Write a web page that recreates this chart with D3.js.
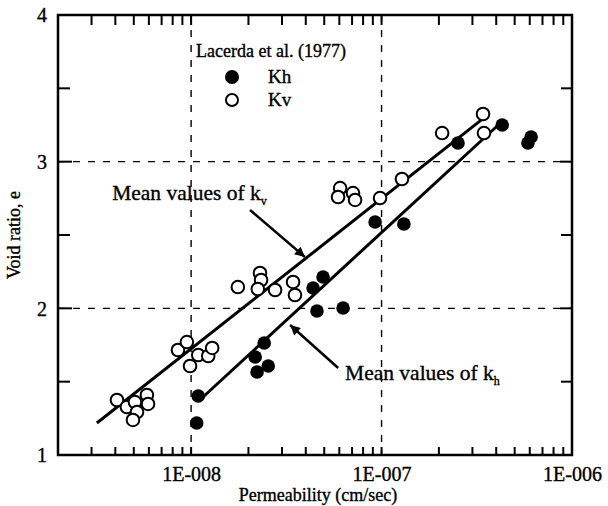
<!DOCTYPE html>
<html><head><meta charset="utf-8">
<script src="https://cdn.jsdelivr.net/npm/d3@7"></script>
<style>body{margin:0;background:#fff}text{font-family:"Liberation Serif","DejaVu Serif",serif;fill:#000;stroke:#000;stroke-width:0.35px}</style>
</head><body><svg id="c" width="608" height="506"></svg>
<script>
// Kh (filled) data: permeability (cm/sec), void ratio
const khK = [1.09e-8,1.07e-8,2.42e-8,2.17e-8,2.54e-8,2.22e-8,4.93e-8,4.37e-8,4.58e-8,6.28e-8,9.25e-8,1.31e-7,2.52e-7,4.3e-7,6.1e-7,5.87e-7];
const khE = [1.402,1.218,1.764,1.668,1.607,1.566,2.214,2.139,1.982,2.002,2.589,2.575,3.127,3.250,3.168,3.127];
// Kv (open) data
const kvK = [4.08e-9,4.6e-9,5.07e-9,5.2e-9,4.95e-9,5.86e-9,5.94e-9,8.53e-9,9.5e-9,9.87e-9,1.09e-8,1.23e-8,1.29e-8,1.76e-8,2.30e-8,2.33e-8,2.24e-8,2.76e-8,3.43e-8,3.51e-8,6.06e-8,5.91e-8,7.08e-8,7.26e-8,9.82e-8,1.28e-7,2.08e-7,3.41e-7,3.45e-7];
const kvE = [1.375,1.327,1.361,1.293,1.239,1.409,1.348,1.716,1.770,1.607,1.682,1.675,1.730,2.145,2.241,2.193,2.132,2.125,2.180,2.091,2.820,2.759,2.786,2.739,2.752,2.882,3.195,3.325,3.195];
// mean lines (endpoints)
const kvLineK = [3.2e-9, 3.5e-7], kvLineE = [1.218, 3.305];
const khLineK = [1.11e-8, 4.1e-7], khLineE = [1.375, 3.25];
// axes
const xDomain = [2e-9, 1e-6];
const yDomain = [1, 4];
const xTickVals = [1e-8, 1e-7, 1e-6];
const xTickLabels = ["1E-008", "1E-007", "1E-006"];
const yTickVals = [1, 2, 3, 4];
const yMinor = [1.5, 2.5, 3.5];
const legendTitle = "Lacerda et al. (1977)";
const legendNames = ["Kh", "Kv"];
// annotations
const annV = {text:"Mean values of k", sub:"v", tK:3.85e-9, tE:2.739, fK:2.04e-8, fE:2.67, toK:3.96e-8, toE:2.35};
const annH = {text:"Mean values of k", sub:"h", tK:6.43e-8, tE:1.511, fK:5.92e-8, fE:1.593, toK:3.31e-8, toE:1.886};

const L=58, R=572, T=15, B=455;
const svg = d3.select("#c");
const x = d3.scaleLog().domain(xDomain).range([L,R]);
const y = d3.scaleLinear().domain(yDomain).range([B,T]);

// gridlines
const g = svg.append("g").attr("stroke","#000").attr("stroke-width",1.4).attr("stroke-dasharray","7,8");
[2,3].forEach(v=>g.append("line").attr("x1",L).attr("x2",R).attr("y1",y(v)).attr("y2",y(v)));
[1e-8,1e-7].forEach(v=>g.append("line").attr("y1",T).attr("y2",B).attr("x1",x(v)).attr("x2",x(v)));

// minor x ticks
const xMinor = [];
for (let d=-9; d<=-7; d++) for (let m=1; m<=9; m++){ const v=m*Math.pow(10,d); if(v>xDomain[0]*1.0001 && v<xDomain[1]*0.9999) xMinor.push(v); }
const tk = svg.append("g").attr("stroke","#000").attr("stroke-width",2);
xMinor.forEach(v=>{
  tk.append("line").attr("x1",x(v)).attr("x2",x(v)).attr("y1",B).attr("y2",B-8);
  tk.append("line").attr("x1",x(v)).attr("x2",x(v)).attr("y1",T).attr("y2",T+10);
});
yMinor.forEach(v=>{
  tk.append("line").attr("x1",L).attr("x2",L+12).attr("y1",y(v)).attr("y2",y(v));
  tk.append("line").attr("x1",R).attr("x2",R-11).attr("y1",y(v)).attr("y2",y(v));
});
[2,3].forEach(v=>{
  tk.append("line").attr("x1",L).attr("x2",L+14).attr("y1",y(v)).attr("y2",y(v));
  tk.append("line").attr("x1",R).attr("x2",R-12).attr("y1",y(v)).attr("y2",y(v));
});

// frame
svg.append("rect").attr("x",L).attr("y",T).attr("width",R-L).attr("height",B-T)
  .attr("fill","none").attr("stroke","#000").attr("stroke-width",2.5);

// axes labels
const xa = d3.axisBottom(x).tickValues(xTickVals).tickFormat((d,i)=>xTickLabels[i]).tickSize(0).tickPadding(0);
const xg = svg.append("g").attr("transform",`translate(0,${B})`).call(xa);
xg.select(".domain").remove();
xg.selectAll("text").attr("font-size",20).attr("dy",null).attr("y",26).attr("font-family","Liberation Serif").attr("fill","#000");
const ya = d3.axisLeft(y).tickValues(yTickVals).tickFormat(d3.format("d")).tickSize(0).tickPadding(11);
const yg = svg.append("g").attr("transform",`translate(${L},0)`).call(ya);
yg.select(".domain").remove();
yg.selectAll("text").attr("font-size",20).attr("font-family","Liberation Serif").attr("fill","#000").attr("dy","0.34em");

svg.append("text").attr("x",(L+R)/2+3).attr("y",501).attr("text-anchor","middle").attr("font-size",18).text("Permeability (cm/sec)");
svg.append("text").attr("transform",`translate(20,${(T+B)/2}) rotate(-90)`).attr("text-anchor","middle").attr("font-size",18).text("Void ratio, e");

// mean lines
const line = d3.line().x(d=>x(d[0])).y(d=>y(d[1]));
svg.append("path").attr("d",line(kvLineK.map((k,i)=>[k,kvLineE[i]]))).attr("stroke","#000").attr("stroke-width",3).attr("fill","none");
svg.append("path").attr("d",line(khLineK.map((k,i)=>[k,khLineE[i]]))).attr("stroke","#000").attr("stroke-width",3).attr("fill","none");

// points
svg.append("g").selectAll("circle").data(kvK.map((k,i)=>[k,kvE[i]])).join("circle")
  .attr("cx",d=>x(d[0])).attr("cy",d=>y(d[1])).attr("r",6.3).attr("fill","#fff").attr("stroke","#000").attr("stroke-width",2);
svg.append("g").selectAll("circle").data(khK.map((k,i)=>[k,khE[i]])).join("circle")
  .attr("cx",d=>x(d[0])).attr("cy",d=>y(d[1])).attr("r",6.8).attr("fill","#000");

// legend
svg.append("text").attr("x",196).attr("y",57).attr("font-size",18).text(legendTitle);
svg.append("circle").attr("cx",232).attr("cy",77).attr("r",7).attr("fill","#000");
svg.append("circle").attr("cx",232).attr("cy",100).attr("r",6).attr("fill","#fff").attr("stroke","#000").attr("stroke-width",2);
svg.append("text").attr("x",268).attr("y",83).attr("font-size",19).text(legendNames[0]);
svg.append("text").attr("x",268).attr("y",106).attr("font-size",19).text(legendNames[1]);

// annotations
svg.append("defs").append("marker").attr("id","ah").attr("viewBox","0 0 10 10").attr("refX",10).attr("refY",5)
  .attr("markerWidth",5).attr("markerHeight",4).attr("markerUnits","strokeWidth").attr("orient","auto")
  .append("path").attr("d","M0,0L10,5L0,10Z").attr("fill","#000");
[annV, annH].forEach(a=>{
  const t = svg.append("text").attr("x",x(a.tK)).attr("y",y(a.tE)).attr("font-size",21.5);
  t.append("tspan").text(a.text);
  t.append("tspan").attr("font-size",12).attr("dy",5).text(a.sub);
  svg.append("line").attr("x1",x(a.fK)).attr("y1",y(a.fE)).attr("x2",x(a.toK)).attr("y2",y(a.toE))
    .attr("stroke","#000").attr("stroke-width",2.5).attr("marker-end","url(#ah)");
});
</script></body></html>
